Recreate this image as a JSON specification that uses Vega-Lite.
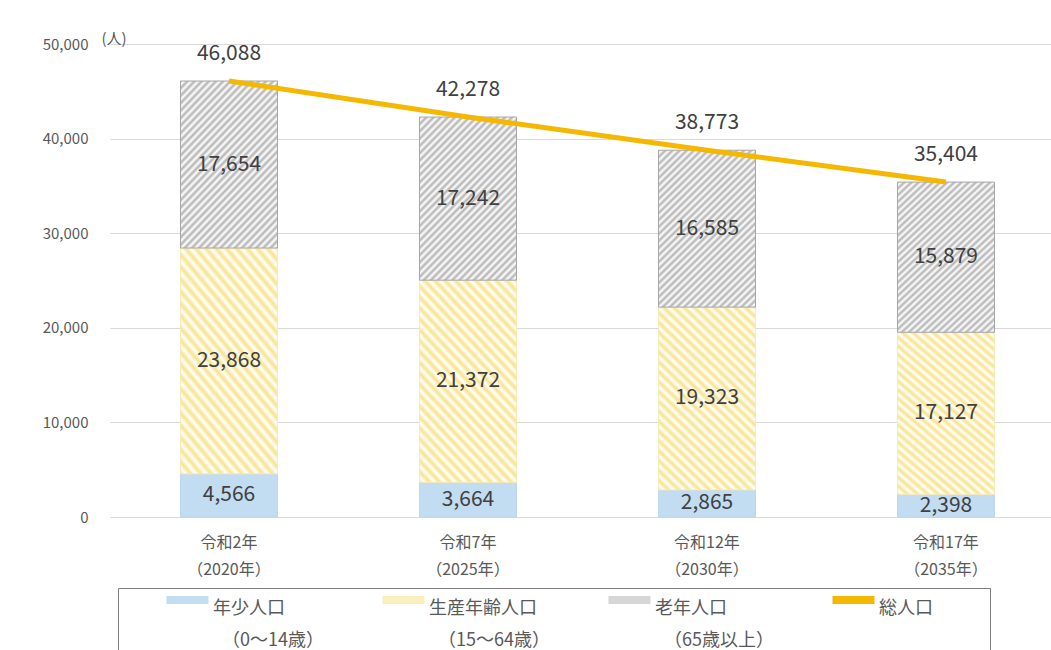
{
  "$schema": "https://vega.github.io/schema/vega-lite/v6.json",
  "width": 941,
  "height": 473,
  "autosize": "none",
  "padding": {"left": 110, "top": 44, "right": 0, "bottom": 133},
  "background": "white",
  "config": {"font": "Noto Sans CJK JP", "view": {"stroke": null}, "style": {"guide-label": {"lineHeight": 32}}},
  "datasets": {
    "seg": [
      {"year": "令和2年|（2020年）", "cat": "年少人口", "k": 1, "value": 4566},
      {"year": "令和2年|（2020年）", "cat": "生産年齢人口", "k": 2, "value": 23868},
      {"year": "令和2年|（2020年）", "cat": "老年人口", "k": 3, "value": 17654},
      {"year": "令和7年|（2025年）", "cat": "年少人口", "k": 1, "value": 3664},
      {"year": "令和7年|（2025年）", "cat": "生産年齢人口", "k": 2, "value": 21372},
      {"year": "令和7年|（2025年）", "cat": "老年人口", "k": 3, "value": 17242},
      {"year": "令和12年|（2030年）", "cat": "年少人口", "k": 1, "value": 2865},
      {"year": "令和12年|（2030年）", "cat": "生産年齢人口", "k": 2, "value": 19323},
      {"year": "令和12年|（2030年）", "cat": "老年人口", "k": 3, "value": 16585},
      {"year": "令和17年|（2035年）", "cat": "年少人口", "k": 1, "value": 2398},
      {"year": "令和17年|（2035年）", "cat": "生産年齢人口", "k": 2, "value": 17127},
      {"year": "令和17年|（2035年）", "cat": "老年人口", "k": 3, "value": 15879}
    ],
    "tot": [
      {"year": "令和2年|（2020年）", "total": 46088},
      {"year": "令和7年|（2025年）", "total": 42278},
      {"year": "令和12年|（2030年）", "total": 38773},
      {"year": "令和17年|（2035年）", "total": 35404}
    ]
  },
  "encoding": {
    "x": {
      "field": "year", "type": "nominal", "sort": null, "title": null,
      "scale": {"paddingInner": 0.594, "paddingOuter": 0.2657, "align": 0.555},
      "axis": {
        "labelAngle": 0, "ticks": false, "domainColor": "#d9d9d9", "labelColor": "#595959",
        "labelFontSize": 16, "labelPadding": 17, "labelLineHeight": 27,
        "labelExpr": "split(datum.label, '|')"
      }
    }
  },
  "layer": [
    {
      "data": {"name": "seg"},
      "transform": [
        {"stack": "value", "groupby": ["year"], "sort": [{"field": "k", "order": "ascending"}], "as": ["v0", "v1"]},
        {"filter": "datum.cat === '年少人口'"}
      ],
      "mark": {"type": "bar", "stroke": "#bdd7ee", "strokeWidth": 1},
      "encoding": {
        "y": {
          "field": "v1", "type": "quantitative", "scale": {"domain": [0, 50000]}, "title": "(人)",
          "axis": {
            "values": [0, 10000, 20000, 30000, 40000, 50000],
            "labelExpr": "format(datum.value, ',')",
            "labelColor": "#595959", "labelFontSize": 15, "labelPadding": 22,
            "ticks": false, "domain": false, "gridColor": "#d9d9d9",
            "titleAngle": 0, "titleAlign": "left", "titleBaseline": "middle",
            "titleX": -9, "titleY": -6, "titleFontWeight": "normal", "titleFontSize": 15, "titleColor": "#595959"
          }
        },
        "y2": {"field": "v0"},
        "fill": {
          "field": "cat", "type": "nominal",
          "scale": {"domain": ["年少人口", "生産年齢人口", "老年人口", "総人口"], "range": ["#c2dcf2", "#fbeebd", "#d6d6d6", "#F5B800"]},
          "legend": {
            "orient": "none", "legendX": 8, "legendY": 544, "direction": "horizontal", "columns": 4,
            "title": "　", "titleOrient": "left", "titleFontSize": 17, "titlePadding": 45,
            "strokeColor": "#7f7f7f", "padding": 3, "columnPadding": 58,
            "labelFontSize": 18, "labelColor": "#595959", "labelOffset": 29, "labelLimit": 0,
            "labelBaseline": "top", "symbolSize": 289, "symbolType": "M-1,-0.47H3.94V0.47H-1Z",
            "symbolStrokeWidth": 0, "symbolOpacity": 1,
            "labelExpr": "datum.label === '年少人口' ? ['年少人口', '\u200b　（0～14歳）'] : datum.label === '生産年齢人口' ? ['生産年齢人口', '\u200b　（15～64歳）'] : datum.label === '老年人口' ? ['老年人口', '\u200b　（65歳以上）'] : ['総人口　　　\u200b', '\u200b']"
          }
        }
      }
    },
    {
      "data": {"name": "seg"},
      "transform": [
        {"stack": "value", "groupby": ["year"], "sort": [{"field": "k", "order": "ascending"}], "as": ["v0", "v1"]},
        {"filter": "datum.cat === '生産年齢人口'"}
      ],
      "mark": {
        "type": "bar", "strokeWidth": 1, "stroke": "#f7ebb8",
        "fill": {"gradient": "linear", "x1": 0, "y1": 1, "x2": 0.612, "y2": -0.198, "stops": [
          {"offset": 0, "color": "#f8e38a"}, {"offset": 0.0179, "color": "#ffffff"},
          {"offset": 0.0357, "color": "#f8e38a"}, {"offset": 0.0536, "color": "#ffffff"},
          {"offset": 0.0714, "color": "#f8e38a"}, {"offset": 0.0893, "color": "#ffffff"},
          {"offset": 0.1071, "color": "#f8e38a"}, {"offset": 0.125, "color": "#ffffff"},
          {"offset": 0.1429, "color": "#f8e38a"}, {"offset": 0.1607, "color": "#ffffff"},
          {"offset": 0.1786, "color": "#f8e38a"}, {"offset": 0.1964, "color": "#ffffff"},
          {"offset": 0.2143, "color": "#f8e38a"}, {"offset": 0.2321, "color": "#ffffff"},
          {"offset": 0.25, "color": "#f8e38a"}, {"offset": 0.2679, "color": "#ffffff"},
          {"offset": 0.2857, "color": "#f8e38a"}, {"offset": 0.3036, "color": "#ffffff"},
          {"offset": 0.3214, "color": "#f8e38a"}, {"offset": 0.3393, "color": "#ffffff"},
          {"offset": 0.3571, "color": "#f8e38a"}, {"offset": 0.375, "color": "#ffffff"},
          {"offset": 0.3929, "color": "#f8e38a"}, {"offset": 0.4107, "color": "#ffffff"},
          {"offset": 0.4286, "color": "#f8e38a"}, {"offset": 0.4464, "color": "#ffffff"},
          {"offset": 0.4643, "color": "#f8e38a"}, {"offset": 0.4821, "color": "#ffffff"},
          {"offset": 0.5, "color": "#f8e38a"}, {"offset": 0.5179, "color": "#ffffff"},
          {"offset": 0.5357, "color": "#f8e38a"}, {"offset": 0.5536, "color": "#ffffff"},
          {"offset": 0.5714, "color": "#f8e38a"}, {"offset": 0.5893, "color": "#ffffff"},
          {"offset": 0.6071, "color": "#f8e38a"}, {"offset": 0.625, "color": "#ffffff"},
          {"offset": 0.6429, "color": "#f8e38a"}, {"offset": 0.6607, "color": "#ffffff"},
          {"offset": 0.6786, "color": "#f8e38a"}, {"offset": 0.6964, "color": "#ffffff"},
          {"offset": 0.7143, "color": "#f8e38a"}, {"offset": 0.7321, "color": "#ffffff"},
          {"offset": 0.75, "color": "#f8e38a"}, {"offset": 0.7679, "color": "#ffffff"},
          {"offset": 0.7857, "color": "#f8e38a"}, {"offset": 0.8036, "color": "#ffffff"},
          {"offset": 0.8214, "color": "#f8e38a"}, {"offset": 0.8393, "color": "#ffffff"},
          {"offset": 0.8571, "color": "#f8e38a"}, {"offset": 0.875, "color": "#ffffff"},
          {"offset": 0.8929, "color": "#f8e38a"}, {"offset": 0.9107, "color": "#ffffff"},
          {"offset": 0.9286, "color": "#f8e38a"}, {"offset": 0.9464, "color": "#ffffff"},
          {"offset": 0.9643, "color": "#f8e38a"}, {"offset": 0.9821, "color": "#ffffff"},
          {"offset": 1, "color": "#f8e38a"}
        ]}
      },
      "encoding": {
        "y": {"field": "v1", "type": "quantitative", "title": "(人)"},
        "y2": {"field": "v0"}
      }
    },
    {
      "data": {"name": "seg"},
      "transform": [
        {"stack": "value", "groupby": ["year"], "sort": [{"field": "k", "order": "ascending"}], "as": ["v0", "v1"]},
        {"filter": "datum.cat === '老年人口'"}
      ],
      "mark": {
        "type": "bar", "strokeWidth": 1, "stroke": "#a6a6a6",
        "fill": {"gradient": "linear", "x1": 0, "y1": 0, "x2": 0.712, "y2": 1.175, "stops": [
          {"offset": 0, "color": "#b3b3b3"}, {"offset": 0.0139, "color": "#ffffff"},
          {"offset": 0.0278, "color": "#b3b3b3"}, {"offset": 0.0417, "color": "#ffffff"},
          {"offset": 0.0556, "color": "#b3b3b3"}, {"offset": 0.0694, "color": "#ffffff"},
          {"offset": 0.0833, "color": "#b3b3b3"}, {"offset": 0.0972, "color": "#ffffff"},
          {"offset": 0.1111, "color": "#b3b3b3"}, {"offset": 0.125, "color": "#ffffff"},
          {"offset": 0.1389, "color": "#b3b3b3"}, {"offset": 0.1528, "color": "#ffffff"},
          {"offset": 0.1667, "color": "#b3b3b3"}, {"offset": 0.1806, "color": "#ffffff"},
          {"offset": 0.1944, "color": "#b3b3b3"}, {"offset": 0.2083, "color": "#ffffff"},
          {"offset": 0.2222, "color": "#b3b3b3"}, {"offset": 0.2361, "color": "#ffffff"},
          {"offset": 0.25, "color": "#b3b3b3"}, {"offset": 0.2639, "color": "#ffffff"},
          {"offset": 0.2778, "color": "#b3b3b3"}, {"offset": 0.2917, "color": "#ffffff"},
          {"offset": 0.3056, "color": "#b3b3b3"}, {"offset": 0.3194, "color": "#ffffff"},
          {"offset": 0.3333, "color": "#b3b3b3"}, {"offset": 0.3472, "color": "#ffffff"},
          {"offset": 0.3611, "color": "#b3b3b3"}, {"offset": 0.375, "color": "#ffffff"},
          {"offset": 0.3889, "color": "#b3b3b3"}, {"offset": 0.4028, "color": "#ffffff"},
          {"offset": 0.4167, "color": "#b3b3b3"}, {"offset": 0.4306, "color": "#ffffff"},
          {"offset": 0.4444, "color": "#b3b3b3"}, {"offset": 0.4583, "color": "#ffffff"},
          {"offset": 0.4722, "color": "#b3b3b3"}, {"offset": 0.4861, "color": "#ffffff"},
          {"offset": 0.5, "color": "#b3b3b3"}, {"offset": 0.5139, "color": "#ffffff"},
          {"offset": 0.5278, "color": "#b3b3b3"}, {"offset": 0.5417, "color": "#ffffff"},
          {"offset": 0.5556, "color": "#b3b3b3"}, {"offset": 0.5694, "color": "#ffffff"},
          {"offset": 0.5833, "color": "#b3b3b3"}, {"offset": 0.5972, "color": "#ffffff"},
          {"offset": 0.6111, "color": "#b3b3b3"}, {"offset": 0.625, "color": "#ffffff"},
          {"offset": 0.6389, "color": "#b3b3b3"}, {"offset": 0.6528, "color": "#ffffff"},
          {"offset": 0.6667, "color": "#b3b3b3"}, {"offset": 0.6806, "color": "#ffffff"},
          {"offset": 0.6944, "color": "#b3b3b3"}, {"offset": 0.7083, "color": "#ffffff"},
          {"offset": 0.7222, "color": "#b3b3b3"}, {"offset": 0.7361, "color": "#ffffff"},
          {"offset": 0.75, "color": "#b3b3b3"}, {"offset": 0.7639, "color": "#ffffff"},
          {"offset": 0.7778, "color": "#b3b3b3"}, {"offset": 0.7917, "color": "#ffffff"},
          {"offset": 0.8056, "color": "#b3b3b3"}, {"offset": 0.8194, "color": "#ffffff"},
          {"offset": 0.8333, "color": "#b3b3b3"}, {"offset": 0.8472, "color": "#ffffff"},
          {"offset": 0.8611, "color": "#b3b3b3"}, {"offset": 0.875, "color": "#ffffff"},
          {"offset": 0.8889, "color": "#b3b3b3"}, {"offset": 0.9028, "color": "#ffffff"},
          {"offset": 0.9167, "color": "#b3b3b3"}, {"offset": 0.9306, "color": "#ffffff"},
          {"offset": 0.9444, "color": "#b3b3b3"}, {"offset": 0.9583, "color": "#ffffff"},
          {"offset": 0.9722, "color": "#b3b3b3"}, {"offset": 0.9861, "color": "#ffffff"},
          {"offset": 1, "color": "#b3b3b3"}
        ]}
      },
      "encoding": {
        "y": {"field": "v1", "type": "quantitative", "title": "(人)"},
        "y2": {"field": "v0"}
      }
    },
    {
      "data": {"name": "seg"},
      "transform": [
        {"stack": "value", "groupby": ["year"], "sort": [{"field": "k", "order": "ascending"}], "as": ["v0", "v1"]},
        {"calculate": "(datum.v0 + datum.v1) / 2", "as": "mid"}
      ],
      "mark": {"type": "text", "fontSize": 21, "color": "#404040", "baseline": "middle"},
      "encoding": {
        "y": {"field": "mid", "type": "quantitative", "title": "(人)"},
        "text": {"field": "value", "type": "quantitative", "format": ","}
      }
    },
    {
      "data": {"name": "tot"},
      "mark": {"type": "line", "strokeWidth": 5, "stroke": "#F5B800"},
      "encoding": {
        "y": {"field": "total", "type": "quantitative", "title": "(人)"}
      }
    },
    {
      "data": {"name": "tot"},
      "mark": {"type": "text", "fontSize": 21, "color": "#404040", "baseline": "middle", "dy": -27},
      "encoding": {
        "y": {"field": "total", "type": "quantitative", "title": "(人)"},
        "text": {"field": "total", "type": "quantitative", "format": ","}
      }
    }
  ]
}
